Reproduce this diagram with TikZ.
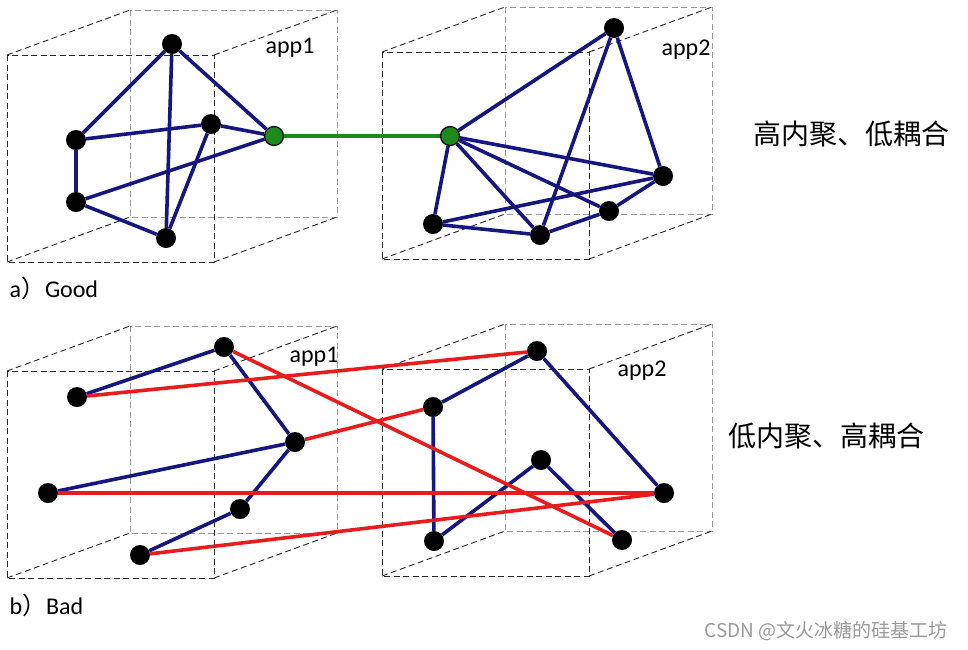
\documentclass[tikz,border=0pt]{standalone}
\usepackage{fontspec}
\setsansfont{Carlito}
\newfontfamily\cjk{Noto Sans CJK SC}
\usetikzlibrary{positioning,backgrounds}
\definecolor{navy}{HTML}{161680}
\definecolor{linkred}{HTML}{E81C1C}
\definecolor{linkgreen}{HTML}{1C8A1C}

\tikzset{
  dot/.style={circle, fill=black, minimum size=20pt, inner sep=0pt},
  gdot/.style={circle, fill=linkgreen, draw=black, line width=1.2pt, minimum size=19pt, inner sep=0pt},
  edge/.style={navy, line width=3.6pt},
  redge/.style={linkred, line width=3.6pt},
  gedge/.style={linkgreen, line width=3.6pt},
  frontbox/.style={black!85, line width=0.9pt, dash pattern=on 6pt off 3.5pt},
  backbox/.style={black!40, line width=0.9pt, dash pattern=on 6pt off 3.5pt},
  applabel/.style={font=\sffamily\fontsize{24}{24}\selectfont},
  caption/.style={font=\sffamily\fontsize{24}{24}\selectfont, anchor=west}
}

\begin{document}
\begin{tikzpicture}[x=1pt, y=-1pt]
  \useasboundingbox (0,0) rectangle (968,649);
  \node[applabel] (app1a) at (290,48) {app1};
  \node[applabel] (app2a) at (686,50) {app2};
  \node[applabel] (app1b) at (314,357) {app1};
  \node[applabel] (app2b) at (642,371) {app2};

  % (a) Good
  \node[dot] (n1) at (172,44) {};
  \node[dot] (n2) at (76,140) {};
  \node[dot] (n3) at (76,202) {};
  \node[dot] (n4) at (166,238) {};
  \node[dot] (n5) at (211,124) {};
  \node[gdot] (g1) at (274,136) {};
  \node[gdot] (g2) at (450,136) {};
  \node[dot] (m1) at (614,28) {};
  \node[dot] (m2) at (663,176) {};
  \node[dot] (m3) at (609,211) {};
  \node[dot] (m4) at (540,235) {};
  \node[dot] (m5) at (433,224) {};

  % (b) Bad
  \node[dot] (p1) at (224,347) {};
  \node[dot] (p2) at (77,397) {};
  \node[dot] (p3) at (295,442) {};
  \node[dot] (p4) at (48,493) {};
  \node[dot] (p5) at (240,509) {};
  \node[dot] (p6) at (140,555) {};
  \node[dot] (q1) at (537,351) {};
  \node[dot] (q2) at (433,407) {};
  \node[dot] (q3) at (541,460) {};
  \node[dot] (q4) at (664,493) {};
  \node[dot] (q5) at (434,541) {};
  \node[dot] (q6) at (622,540) {};

  \begin{pgfonlayer}{background}
    % Boxes (front corner x/y)
    \foreach \cx/\cy in {7/55, 382/52, 7/371, 382/369} {
      \draw[backbox] (\cx+123,\cy-45) rectangle (\cx+330,\cy+162);
      \draw[frontbox] (\cx,\cy) rectangle (\cx+207,\cy+207);
      \draw[frontbox] (\cx,\cy) -- (\cx+123,\cy-45);
      \draw[frontbox] (\cx+207,\cy) -- (\cx+330,\cy-45);
      \draw[frontbox] (\cx,\cy+207) -- (\cx+123,\cy+162);
      \draw[frontbox] (\cx+207,\cy+207) -- (\cx+330,\cy+162);
    }
    \foreach \a/\b in {n1/n2, n1/n4, n1/g1, n2/n3, n2/n5, n5/g1, n5/n4, n3/g1, n3/n4,
                       g2/m1, g2/m2, g2/m3, g2/m4, g2/m5, m1/m4, m1/m2, m2/m5, m2/m3, m3/m4, m5/m4,
                       p1/p2, p1/p3, p3/p4, p3/p5, p5/p6, q1/q2, q2/q5, q1/q4, q5/q3, q3/q6}
      \draw[edge] (\a) -- (\b);
    \draw[gedge] (g1) -- (g2);
    \foreach \a/\b in {p2/q1, p1/q6, p3/q2, p4/q4, p6/q4}
      \draw[redge] (\a) -- (\b);
  \end{pgfonlayer}

  % Captions
  \node[caption] (capa) at (6,288) {a{\cjk ）}Good};
  \node[caption] (capb) at (6,605) {b{\cjk ）}Bad};
  \node[font=\cjk\fontsize{28}{28}\selectfont] (gooddesc) at (851,134) {高内聚、低耦合};
  \node[font=\cjk\fontsize{28}{28}\selectfont] (baddesc) at (826,436) {低内聚、高耦合};
  \node[font=\cjk\fontsize{19}{19}\selectfont, text=black!40] (mark) at (826,631) {CSDN @文火冰糖的硅基工坊};
\end{tikzpicture}
\end{document}
